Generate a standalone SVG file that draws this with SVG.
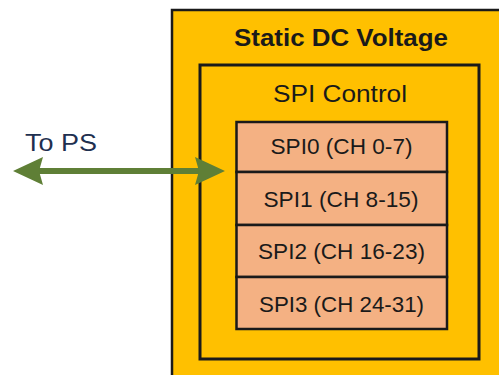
<svg xmlns="http://www.w3.org/2000/svg" width="499" height="375" viewBox="0 0 499 375">
  <style>
    .box { stroke: #1a1a1a; }
    .outer { fill: #FFC000; stroke-width: 2.5; }
    .ctrl { fill: #FFC000; stroke-width: 3; }
    .spi { fill: #F4B183; stroke-width: 2.5; }
    text { font-family: "Liberation Sans", Arial, sans-serif; fill: #1a1a1a; text-anchor: middle; }
    .title { font-weight: bold; font-size: 23px; }
    .sub { font-size: 24px; }
    .row { font-size: 22px; }
    .lbl { font-size: 24px; fill: #1F3050; text-anchor: start; }
    .conn { stroke: #5F7F36; stroke-width: 6; fill: none; }
  </style>
  <defs>
    <marker id="ah" markerUnits="userSpaceOnUse" markerWidth="32" markerHeight="30" viewBox="0 0 32 30" refX="8" refY="15" orient="auto-start-reverse">
      <path d="M0,1 L30,15 L0,29 L4,15 Z" fill="#5F7F36"/>
    </marker>
  </defs>
  <rect width="499" height="375" fill="#ffffff"/>
  <g id="static-dc-voltage">
    <rect class="box outer" x="172" y="10" width="345" height="380"/>
    <text class="title" x="341" y="46" textLength="214" lengthAdjust="spacingAndGlyphs">Static DC Voltage</text>
  </g>
  <g id="spi-control">
    <rect class="box ctrl" x="200" y="65" width="279" height="294"/>
    <text class="sub" x="340" y="102" textLength="134" lengthAdjust="spacingAndGlyphs">SPI Control</text>
  </g>
  <g id="spi0">
    <rect class="box spi" x="236.5" y="122" width="210.5" height="50"/>
    <text class="row" x="341.5" y="154" textLength="142" lengthAdjust="spacingAndGlyphs">SPI0 (CH 0-7)</text>
  </g>
  <g id="spi1">
    <rect class="box spi" x="236.5" y="172" width="210.5" height="53"/>
    <text class="row" x="341" y="206.5" textLength="155" lengthAdjust="spacingAndGlyphs">SPI1 (CH 8-15)</text>
  </g>
  <g id="spi2">
    <rect class="box spi" x="236.5" y="225" width="210.5" height="52"/>
    <text class="row" x="341.5" y="258.5" textLength="167" lengthAdjust="spacingAndGlyphs">SPI2 (CH 16-23)</text>
  </g>
  <g id="spi3">
    <rect class="box spi" x="236.5" y="277" width="210.5" height="52"/>
    <text class="row" x="341.5" y="311.5" textLength="165" lengthAdjust="spacingAndGlyphs">SPI3 (CH 24-31)</text>
  </g>
  <g id="to-ps">
    <text class="lbl" x="25" y="151" textLength="72" lengthAdjust="spacingAndGlyphs">To PS</text>
  </g>
  <g id="connectors">
    <path class="conn" d="M35,171 L203,171" marker-start="url(#ah)" marker-end="url(#ah)"/>
  </g>
</svg>
